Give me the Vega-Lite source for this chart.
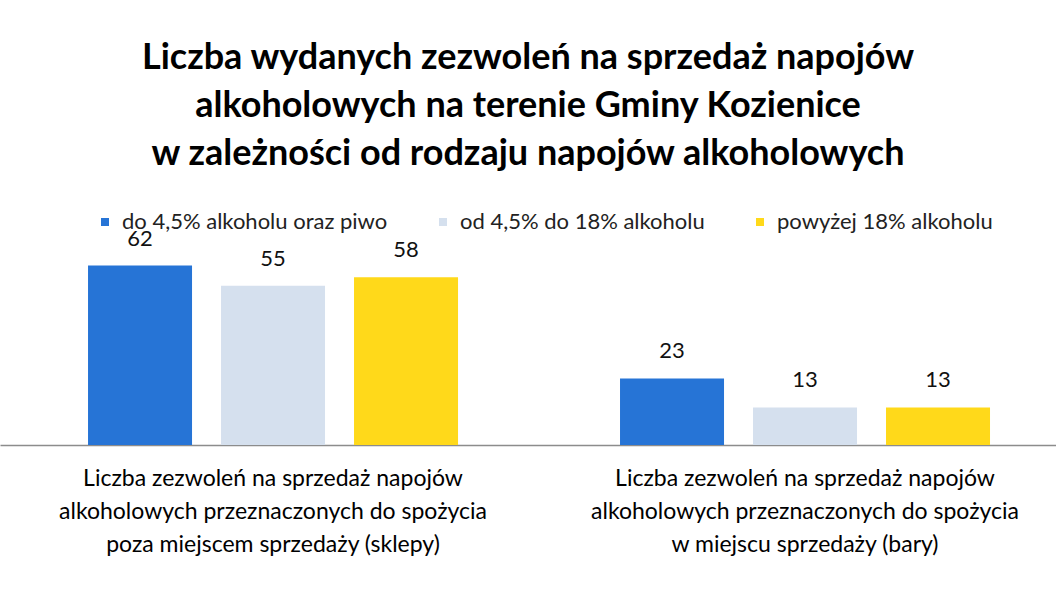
{
  "$schema": "https://vega.github.io/schema/vega-lite/v6.json",
  "width": 1056,
  "height": 191,
  "autosize": {"type": "none"},
  "padding": {"left": 0, "right": 0, "top": 254, "bottom": 166},
  "background": "white",
  "title": {
    "text": ["Liczba wydanych zezwoleń na sprzedaż napojów", "alkoholowych na terenie Gminy Kozienice", "w zależności od rodzaju napojów alkoholowych"],
    "font": "Lato",
    "fontSize": 36,
    "fontWeight": "bold",
    "color": "black",
    "anchor": "middle",
    "lineHeight": 48,
    "offset": 38
  },
  "data": {
    "values": [
      {"kategoria": "Liczba zezwoleń na sprzedaż napojów|alkoholowych przeznaczonych do spożycia|poza  miejscem sprzedaży (sklepy)", "rodzaj": "do 4,5% alkoholu oraz piwo", "liczba": 62},
      {"kategoria": "Liczba zezwoleń na sprzedaż napojów|alkoholowych przeznaczonych do spożycia|poza  miejscem sprzedaży (sklepy)", "rodzaj": "od 4,5% do 18% alkoholu", "liczba": 55},
      {"kategoria": "Liczba zezwoleń na sprzedaż napojów|alkoholowych przeznaczonych do spożycia|poza  miejscem sprzedaży (sklepy)", "rodzaj": "powyżej 18% alkoholu", "liczba": 58},
      {"kategoria": "Liczba zezwoleń na sprzedaż napojów|alkoholowych przeznaczonych do spożycia|w miejscu sprzedaży (bary)", "rodzaj": "do 4,5% alkoholu oraz piwo", "liczba": 23},
      {"kategoria": "Liczba zezwoleń na sprzedaż napojów|alkoholowych przeznaczonych do spożycia|w miejscu sprzedaży (bary)", "rodzaj": "od 4,5% do 18% alkoholu", "liczba": 13},
      {"kategoria": "Liczba zezwoleń na sprzedaż napojów|alkoholowych przeznaczonych do spożycia|w miejscu sprzedaży (bary)", "rodzaj": "powyżej 18% alkoholu", "liczba": 13}
    ]
  },
  "encoding": {
    "x": {
      "field": "kategoria",
      "type": "nominal",
      "sort": null,
      "scale": {"paddingInner": 0.2, "paddingOuter": 0.0925, "align": 0.612},
      "axis": {
        "title": null,
        "labelAngle": 0,
        "labelExpr": "split(datum.label, '|')",
        "labelFont": "Lato",
        "labelFontSize": 23,
        "labelColor": "black",
        "labelLineHeight": 33,
        "labelPadding": 22,
        "labelLimit": 0,
        "ticks": false,
        "domainColor": "#8c8c8c",
        "domainWidth": 1.5,
        "grid": false
      }
    },
    "xOffset": {
      "field": "rodzaj",
      "type": "nominal",
      "sort": ["do 4,5% alkoholu oraz piwo", "od 4,5% do 18% alkoholu", "powyżej 18% alkoholu"],
      "scale": {"paddingInner": 0.218, "paddingOuter": 0.209}
    },
    "y": {
      "field": "liczba",
      "type": "quantitative",
      "scale": {"domain": [0, 66]},
      "axis": null
    }
  },
  "layer": [
    {
      "mark": {"type": "bar"},
      "encoding": {
        "color": {
          "field": "rodzaj",
          "type": "nominal",
          "sort": ["do 4,5% alkoholu oraz piwo", "od 4,5% do 18% alkoholu", "powyżej 18% alkoholu"],
          "scale": {
            "domain": ["do 4,5% alkoholu oraz piwo", "od 4,5% do 18% alkoholu", "powyżej 18% alkoholu"],
            "range": ["#2674d6", "#d5e0ee", "#ffd91a"]
          },
          "legend": {
            "title": null,
            "orient": "none",
            "direction": "horizontal",
            "legendX": 94,
            "legendY": -43,
            "symbolType": "square",
            "symbolSize": 64,
            "symbolStrokeWidth": 0,
            "labelFont": "Lato",
            "labelFontSize": 22,
            "labelColor": "#222222",
            "labelOffset": 6,
            "labelLimit": 0,
            "columnPadding": 44
          }
        }
      }
    },
    {
      "mark": {"type": "text", "baseline": "middle", "dy": -27, "font": "Lato", "fontSize": 22, "color": "#111111"},
      "encoding": {
        "text": {"field": "liczba", "type": "quantitative"}
      }
    }
  ],
  "config": {
    "view": {"stroke": null}
  }
}
